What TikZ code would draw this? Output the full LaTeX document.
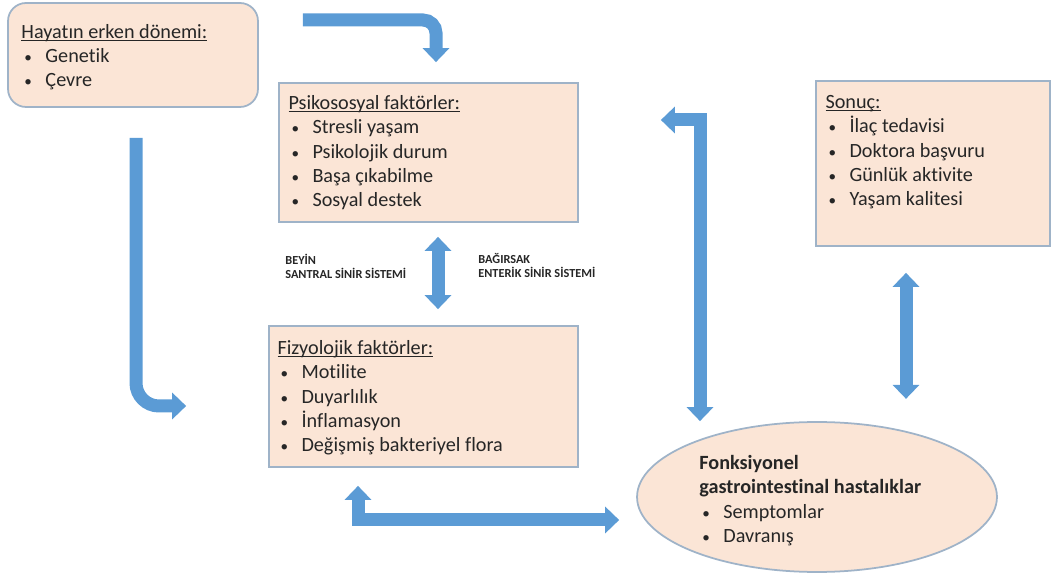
\documentclass[tikz,border=0pt]{standalone}
\usepackage{fontspec}
\setmainfont{Carlito}[Ligatures={NoCommon}]
\usetikzlibrary{arrows.meta,calc,positioning,shapes.geometric}
\definecolor{ArrowBlue}{HTML}{5B9BD5}
\definecolor{BoxPeach}{HTML}{FBE5D6}
\definecolor{BoxEdge}{HTML}{9FB3C8}
\definecolor{InkGray}{HTML}{262626}
\tikzset{
  panel/.style={draw=BoxEdge,fill=BoxPeach,line width=1pt,inner sep=0pt},
  softpanel/.style={panel,rounded corners=.36cm},
  listtext/.style={anchor=north west,inner sep=0pt,align=left,text=InkGray,
    font=\fontsize{11.5}{13.8}\selectfont},
  tagtext/.style={anchor=north west,inner sep=0pt,align=left,text=InkGray,
    font=\fontsize{7}{8}\selectfont\bfseries},
  bigarrow/.style={draw=ArrowBlue,line width=.26cm,-{Triangle[width=.52cm,length=.28cm]}},
  bigboth/.style={bigarrow,{Triangle[width=.52cm,length=.28cm]}-{Triangle[width=.52cm,length=.28cm]}}
}
\newlength{\HeadLen}
\newcommand{\Heading}[1]{\settowidth{\HeadLen}{#1}\rlap{\rule[-.13em]{\HeadLen}{.07em}}#1}
\newcommand{\ListItem}[1]{\makebox[.48cm][l]{\hspace{.06cm}\scalebox{.75}{\textbullet}}#1}

\begin{document}
\begin{tikzpicture}[x=.02cm,y=-.02cm]
  \useasboundingbox (0,0) rectangle (1051,573);
  % boxes
  \node[softpanel,minimum width=5cm,minimum height=2.08cm] (early) at (133,55) {};
  \node[panel,minimum width=5.98cm,minimum height=2.78cm] (psycho) at (428.5,152.5) {};
  \node[panel,minimum width=6.18cm,minimum height=2.82cm] (physio) at (423.5,396.5) {};
  \node[panel,minimum width=4.68cm,minimum height=3.3cm] (outcome) at (933,163.5) {};
  \node[panel,ellipse,minimum width=7.2cm,minimum height=3cm] (fgid) at (817,497) {};
  % texts
  \node[listtext] (earlytext) at ($(early.north west)+(14,22)$)
    {\Heading{Hayatın erken dönemi:}\\ \ListItem{Genetik}\\ \ListItem{Çevre}};
  \node[listtext] (psychotext) at ($(psycho.north west)+(10,13)$)
    {\Heading{Psikososyal faktörler:}\\ \ListItem{Stresli yaşam}\\ \ListItem{Psikolojik durum}\\
     \ListItem{Başa çıkabilme}\\ \ListItem{Sosyal destek}};
  \node[listtext] (physiotext) at ($(physio.north west)+(9,15)$)
    {\Heading{Fizyolojik faktörler:}\\ \ListItem{Motilite}\\ \ListItem{Duyarlılık}\\
     \ListItem{İnflamasyon}\\ \ListItem{Değişmiş bakteriyel flora}};
  \node[listtext] (outcometext) at ($(outcome.north west)+(10,15)$)
    {\Heading{Sonuç:}\\ \ListItem{İlaç tedavisi}\\ \ListItem{Doktora başvuru}\\
     \ListItem{Günlük aktivite}\\ \ListItem{Yaşam kalitesi}};
  \node[listtext] (fgidtext) at ($(fgid.center)+(-118,-42)$)
    {\textbf{Fonksiyonel}\\ \textbf{gastrointestinal hastalıklar}\\
     \ListItem{Semptomlar}\\ \ListItem{Davranış}};
  \node[tagtext] (braintag) at ($(psycho.south)+(-143.5,31)$) {BEYİN\\ SANTRAL SİNİR SİSTEMİ};
  \node[tagtext] (guttag) at ($(psycho.south)+(49.5,30)$) {BAĞIRSAK\\ ENTERİK SİNİR SİSTEMİ};
  % arrows
  \coordinate (topstart) at ($(early.east)+(44,-35)$);
  \draw[bigarrow,rounded corners=.26cm] (topstart) -| ($(psycho.north)+(7.5,-20)$);
  \draw[bigarrow,rounded corners=.46cm] ($(early.south)+(3,30)$) |- ($(physio.west)+(-82,9.5)$);
  \draw[bigboth] ($(psycho.south)+(9.5,14)$) -- ($(physio.north)+(14.5,-16)$);
  \draw[bigboth] ($(psycho.east)+(82,-32.5)$) -| ($(fgid.north)+(-117,0)$);
  \draw[bigboth] ($(physio.south)+(-65.5,18)$) |- ($(fgid.west)+(-17,23)$);
  \draw[bigboth] ($(outcome.south)+(-27,26)$) -- ($(outcome.south)+(-27,152)$);
\end{tikzpicture}
\end{document}
